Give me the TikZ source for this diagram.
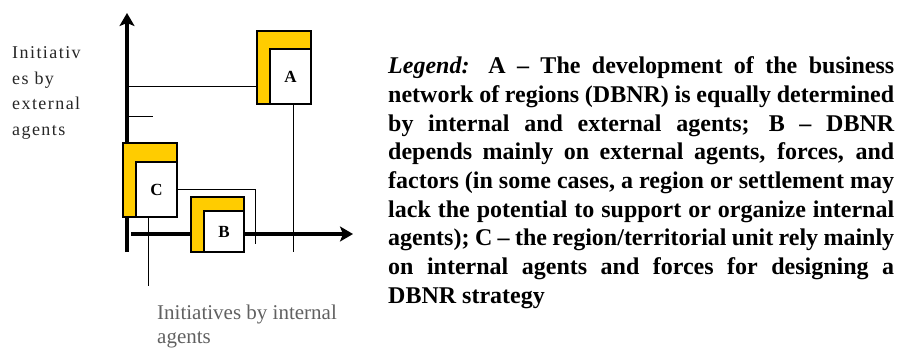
\documentclass[tikz,border=0pt]{standalone}
\usepackage{fontspec}
\setmainfont{Liberation Serif}
\usetikzlibrary{arrows.meta}
\definecolor{boxyellow}{HTML}{FFCC00}
\tikzset{
  axis/.style={line width=4pt,-{Stealth[length=13pt,width=15pt,inset=3pt]}},
  conn/.style={line width=1pt},
  outerbox/.style={draw,line width=1.3pt,fill=boxyellow,inner sep=0pt,outer sep=0pt},
  innerbox/.style={draw,line width=1.3pt,fill=white,inner sep=0pt,outer sep=0pt,
    font=\fontsize{17}{17}\selectfont\bfseries}
}
\begin{document}
\begin{tikzpicture}[x=1pt,y=-1pt]
\useasboundingbox (0,0) rectangle (899,349);
\coordinate (o) at (127,252);
\coordinate (ytip) at (127,13);
\coordinate (xs) at (131,234);
\coordinate (xtip) at (353,234);
\draw[axis] (o)--(ytip);
\draw[axis] (xs)--(xtip);
\node[outerbox,minimum width=54pt,minimum height=73pt] (Aout) at (284,67.5) {};
\node[innerbox,minimum width=41pt,minimum height=55pt,anchor=south east] (Ain) at (Aout.south east) {A};
\node[outerbox,minimum width=54pt,minimum height=74pt] (Cout) at (150,180) {};
\node[innerbox,minimum width=41pt,minimum height=55pt,anchor=south east] (Cin) at (Cout.south east) {C};
\node[outerbox,minimum width=53pt,minimum height=55pt] (Bout) at (217.5,224.5) {};
\node[innerbox,minimum width=40pt,minimum height=41pt,anchor=south east] (Bin) at (Bout.south east) {B};
\coordinate (ya) at (127,86);
\draw[conn] (ya)--(ya -| Aout.west);
\coordinate (tka) at (127,116);
\coordinate (tkb) at (153,116);
\draw[conn] (tka)--(tkb);
\coordinate (aend) at (293,252);
\draw[conn] (aend |- Ain.south)--(aend);
\coordinate (cend) at (255,244);
\draw[conn] (Cin.east) -| (cend);
\coordinate (cdown) at (148,286);
\draw[conn] (cdown |- Cin.south)--(cdown);
\node[anchor=north west,inner sep=0pt,align=left,text=black!85,
  font=\fontsize{18}{25.5}\selectfont\addfontfeature{LetterSpace=8}] (ylab) at (12,46.7)
  {Initiativ\\es by\\external\\agents};
\node[anchor=north west,inner sep=0pt,align=left,text=black!62,
  font=\fontsize{21}{24}\selectfont] (xlab) at (157,304.5)
  {Initiatives by internal\\agents};
\node[anchor=north west,inner sep=0pt,text width=506pt,align=justify,
  font=\fontsize{24}{28.7}\selectfont\bfseries] (legend) at (388,56.6)
  {\textit{Legend:} A -- The development of the business\linebreak
   network of regions (DBNR) is equally determined\linebreak
   by internal and external agents; B -- DBNR\linebreak
   depends mainly on external agents, forces, and\linebreak
   factors (in some cases, a region or settlement may\linebreak
   lack the potential to support or organize internal\linebreak
   agents); C -- the region/territorial unit rely mainly\linebreak
   on internal agents and forces for designing a\linebreak
   DBNR strategy};
\end{tikzpicture}
\end{document}
